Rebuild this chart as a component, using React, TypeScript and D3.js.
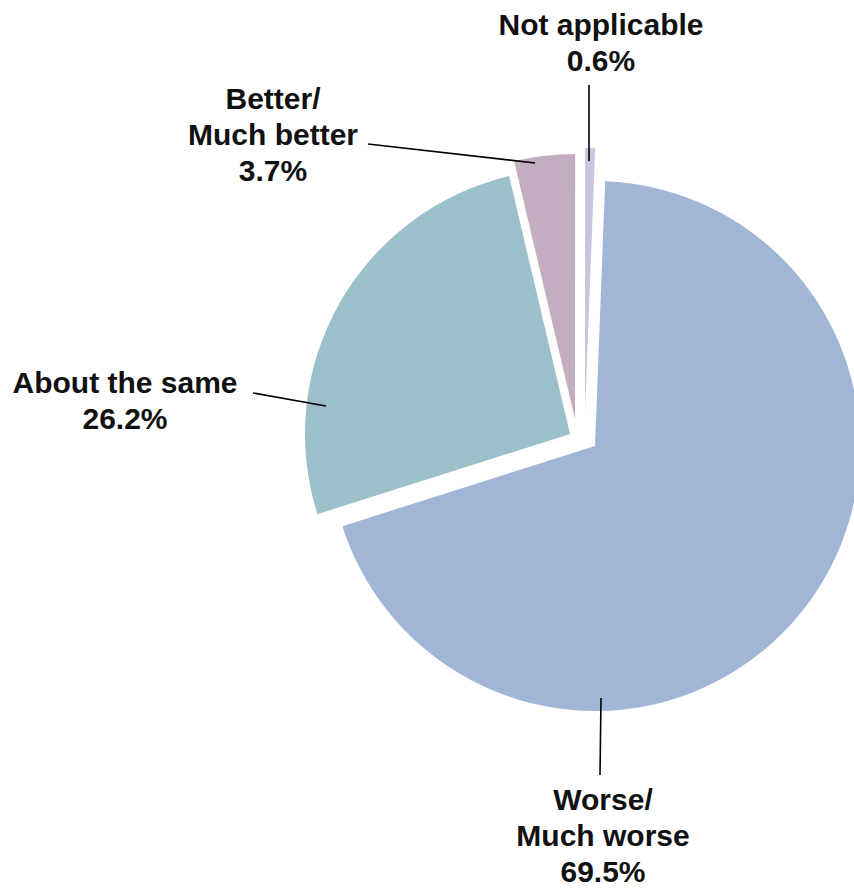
import React from "react";
import * as d3 from "d3";

// ---- data ----
const categories = ["Worse/Much worse", "About the same", "Better/Much better", "Not applicable"];
const values = [69.5, 26.2, 3.7, 0.6];
const labelNames = [["Worse/", "Much worse"], ["About the same"], ["Better/", "Much better"], ["Not applicable"]];
const colors = ["#a1b6d7", "#9bc0ca", "#c2aec0", "#c6c7de"];

// ---- layout (styling, not data) ----
const W = 854;
const H = 888;
const CX = 595;
const CY = 446;
const R = 265;
const START_DEG = 2.2;
const explode: [number, number][] = [[0, 0], [-25, -12], [-20, -27], [-10, -33]];
// label block: center x, first baseline y
const labelPos: [number, number][] = [[603, 810], [125, 393], [273, 109], [601, 35]];
// leader lines
const leaders: [number, number, number, number][] = [
  [601, 698, 600, 775],
  [253, 393, 326, 406],
  [368, 144, 535, 163],
  [589, 85, 589, 161],
];

export default function App() {
  const start = (START_DEG * Math.PI) / 180;
  const pie = d3
    .pie<number>()
    .sort(null)
    .startAngle(start)
    .endAngle(start + 2 * Math.PI)
    .value((d) => d);
  const arcs = pie(values);
  const arc = d3.arc<d3.PieArcDatum<number>>().innerRadius(0).outerRadius(R);
  const fontSize = 30;
  const lh = 36;

  return (
    <svg
      width={W}
      height={H}
      style={{ position: "absolute", left: 0, top: 0, background: "#fff" }}
      fontFamily="'Liberation Sans', Arial, Helvetica, sans-serif"
    >
      <rect width={W} height={H} fill="#fff" />
      {arcs.map((a, i) => (
        <path
          key={categories[i]}
          d={arc(a) || ""}
          fill={colors[i]}
          transform={`translate(${CX + explode[i][0]},${CY + explode[i][1]})`}
        />
      ))}
      {leaders.map((l, i) => (
        <line key={i} x1={l[0]} y1={l[1]} x2={l[2]} y2={l[3]} stroke="#000" strokeWidth={1.6} />
      ))}
      {labelNames.map((lines, i) => {
        const all = [...lines, `${d3.format(".1f")(values[i])}%`];
        return (
          <text
            key={i}
            x={labelPos[i][0]}
            y={labelPos[i][1]}
            textAnchor="middle"
            fontWeight="bold"
            fontSize={fontSize}
            fill="#111"
          >
            {all.map((t, j) => (
              <tspan key={j} x={labelPos[i][0]} dy={j === 0 ? 0 : lh}>
                {t}
              </tspan>
            ))}
          </text>
        );
      })}
    </svg>
  );
}
